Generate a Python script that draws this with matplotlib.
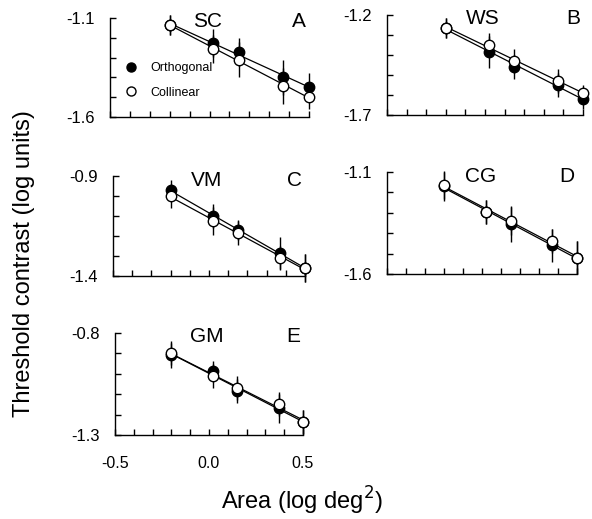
import numpy as np
import matplotlib
matplotlib.use("Agg")
import matplotlib.pyplot as plt
from matplotlib.lines import Line2D

plt.rcParams["font.family"] = ["Liberation Sans", "DejaVu Sans"]

W, H = 592, 519

# log area of the five stimuli
area = [-0.2, 0.02, 0.15, 0.37, 0.5]

# threshold contrast (log units), per observer
sc_orth = [-1.135, -1.227, -1.27, -1.40, -1.45]
sc_coll = [-1.135, -1.257, -1.31, -1.443, -1.50]
sc_err_o = [0.05, 0.07, 0.07, 0.09, 0.07]
sc_err_c = [0.05, 0.07, 0.09, 0.09, 0.06]

ws_orth = [-1.265, -1.385, -1.46, -1.55, -1.62]
ws_coll = [-1.265, -1.35, -1.43, -1.53, -1.59]
ws_err_o = [0.05, 0.08, 0.06, 0.06, 0.05]
ws_err_c = [0.05, 0.06, 0.06, 0.06, 0.04]

vm_orth = [-0.97, -1.10, -1.17, -1.285, -1.36]
vm_coll = [-1.00, -1.125, -1.185, -1.31, -1.36]
vm_err_o = [0.05, 0.06, 0.05, 0.08, 0.07]
vm_err_c = [0.06, 0.07, 0.06, 0.06, 0.07]

cg_orth = [-1.17, -1.296, -1.355, -1.46, -1.52]
cg_coll = [-1.164, -1.296, -1.34, -1.438, -1.52]
cg_err_o = [0.07, 0.06, 0.09, 0.08, 0.08]
cg_err_c = [0.07, 0.06, 0.07, 0.06, 0.08]

gm_orth = [-0.91, -0.986, -1.085, -1.17, -1.236]
gm_coll = [-0.898, -1.01, -1.07, -1.148, -1.236]
gm_err_o = [0.06, 0.05, 0.06, 0.07, 0.06]
gm_err_c = [0.06, 0.06, 0.06, 0.06, 0.06]

paineis = [
    # nome, letra, (esq, topo, dir, base) em px, ylim, dados
    ("SC", "A", (110, 18, 309, 117), (-1.6, -1.1), sc_orth, sc_coll, sc_err_o, sc_err_c),
    ("WS", "B", (387, 15, 583, 115), (-1.7, -1.2), ws_orth, ws_coll, ws_err_o, ws_err_c),
    ("VM", "C", (113, 176, 305, 276), (-1.4, -0.9), vm_orth, vm_coll, vm_err_o, vm_err_c),
    ("CG", "D", (387, 172, 577, 274), (-1.6, -1.1), cg_orth, cg_coll, cg_err_o, cg_err_c),
    ("GM", "E", (115, 333, 303, 435), (-1.3, -0.8), gm_orth, gm_coll, gm_err_o, gm_err_c),
]

fig = plt.figure(figsize=(W / 100, H / 100), dpi=100)

for nome, letra, (x0, y0, x1, y1), ylim, orth, coll, eo, ec in paineis:
    ax = fig.add_axes([x0 / W, 1 - y1 / H, (x1 - x0) / W, (y1 - y0) / H])
    ax.set_xlim(-0.5, 0.5)
    ax.set_ylim(*ylim)
    for s in ["top", "right"]:
        ax.spines[s].set_visible(False)
    for s in ["left", "bottom"]:
        ax.spines[s].set_linewidth(1.0)

    # retas de regressao
    xs = np.array([area[0], area[-1]])
    for ys in (orth, coll):
        m, b = np.polyfit(area, ys, 1)
        ax.plot(xs, m * xs + b, color="black", lw=0.9, zorder=2, clip_on=False)

    ax.errorbar(area, orth, yerr=eo, fmt="o", color="black", mfc="black", mec="black",
                ms=7.5, elinewidth=1.0, capsize=0, zorder=3, clip_on=False)
    ax.errorbar(area, coll, yerr=ec, fmt="o", color="black", mfc="white", mec="black",
                ms=7.5, mew=1.0, elinewidth=1.0, capsize=0, zorder=4, clip_on=False)

    ax.set_yticks([ylim[0], ylim[1]])
    ax.set_yticklabels([f"{ylim[0]:.1f}", f"{ylim[1]:.1f}"])
    ax.set_yticks(np.arange(ylim[0], ylim[1], 0.1)[1:], minor=True)
    ax.tick_params(axis="y", which="both", direction="in", length=4, width=1,
                   labelsize=12, pad=11)

    ax.set_xticks([-0.5, 0.0, 0.5])
    if letra == "E":
        ax.set_xticklabels(["-0.5", "0.0", "0.5"])
    else:
        ax.set_xticklabels([])
    ax.set_xticks(np.arange(-0.4, 0.5, 0.1), minor=True)
    ax.tick_params(axis="x", which="both", direction="in", length=4, width=1,
                   labelsize=11.5, pad=15)

    # nome do observador e letra do painel
    cx = x0 + (x1 - x0) * 0.49
    fig.text(cx / W, 1 - (y0 + 4) / H, nome, ha="center", va="center", fontsize=15)
    fig.text((x1 - 10) / W, 1 - (y0 + 4) / H, letra, ha="center", va="center", fontsize=15)

    if letra == "A":
        handles = [
            Line2D([], [], marker="o", ls="none", mfc="black", mec="black", ms=6.5),
            Line2D([], [], marker="o", ls="none", mfc="white", mec="black", ms=6.5),
        ]
        ax.legend(handles, ["Orthogonal", "Collinear"], loc="center left",
                  bbox_to_anchor=(0.02, 0.37), frameon=False, fontsize=9,
                  handletextpad=1.0, labelspacing=1.0, handlelength=1.0)

fig.text(302 / W, 1 - 501 / H, "Area (log deg$^2$)", ha="center", va="center", fontsize=17)
fig.text(24 / W, 1 - 264 / H, "Threshold contrast (log units)", ha="center", va="center",
         rotation=90, fontsize=17)

fig.savefig("out.png", dpi=100)
